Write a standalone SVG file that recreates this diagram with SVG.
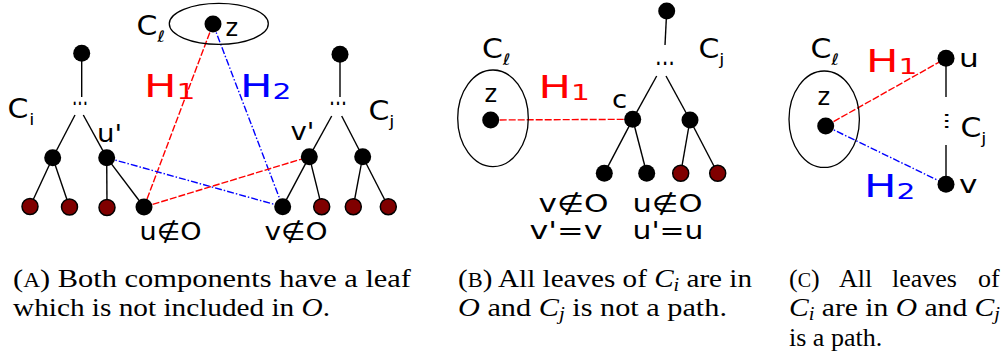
<svg xmlns="http://www.w3.org/2000/svg" width="1005" height="360" viewBox="0 0 1005 360">
<style>
.bg{fill:#fff}
.n{fill:#000}
.r{fill:#800000;stroke:#000;stroke-width:1.5}
.el{fill:none;stroke:#000;stroke-width:1.3}
.e{stroke:#000;stroke-width:1.4;fill:none}
.h1{stroke:#f00;stroke-width:1.4;stroke-dasharray:7 2;fill:none}
.h2{stroke:#00f;stroke-width:1.4;stroke-dasharray:7 2 1.5 2;fill:none}
.l{font-family:"DejaVu Sans",sans-serif;font-size:24px;fill:#000}
.c{font-size:26px}
.H{font-size:32px}
.sub{font-size:16px}
.sub2{font-size:22px}
.dots{font-size:26px}
.red{fill:#f00}
.blue{fill:#00f}
.cap{font-family:"Liberation Serif",serif;font-size:26px;fill:#000}
.it{font-style:italic}
</style>
<rect class="bg" x="0" y="0" width="1005" height="360"/>

<g id="connectors">
  <!-- panel A, Ci tree -->
  <line class="e" x1="81.7" y1="53" x2="81.7" y2="97"/>
  <line class="e" x1="75" y1="115" x2="52.7" y2="157.7"/>
  <line class="e" x1="83.3" y1="115" x2="106.7" y2="157.7"/>
  <line class="e" x1="52.7" y1="157.7" x2="30" y2="206.5"/>
  <line class="e" x1="52.7" y1="157.7" x2="69.5" y2="207"/>
  <line class="e" x1="106.7" y1="157.7" x2="107" y2="207.5"/>
  <line class="e" x1="106.7" y1="157.7" x2="144" y2="207"/>
  <!-- panel A, Cj tree -->
  <line class="e" x1="340" y1="54" x2="340" y2="97"/>
  <line class="e" x1="331.7" y1="116" x2="309.3" y2="156.7"/>
  <line class="e" x1="341.7" y1="116" x2="362.7" y2="156.7"/>
  <line class="e" x1="309.3" y1="156.7" x2="282.7" y2="206.7"/>
  <line class="e" x1="309.3" y1="156.7" x2="321.7" y2="206.7"/>
  <line class="e" x1="362.7" y1="156.7" x2="353.3" y2="206.7"/>
  <line class="e" x1="362.7" y1="156.7" x2="388.3" y2="206.7"/>
  <!-- panel A, H edges -->
  <line class="h1" x1="213" y1="24" x2="144" y2="207"/>
  <line class="h2" x1="213" y1="24" x2="282.7" y2="206.7"/>
  <line class="h2" x1="106.7" y1="157.7" x2="282.7" y2="206.7"/>
  <line class="h1" x1="144" y1="207" x2="309.3" y2="156.7"/>
  <!-- panel B -->
  <line class="e" x1="666.7" y1="11" x2="665" y2="45"/>
  <line class="e" x1="656.7" y1="76" x2="632.7" y2="119.3"/>
  <line class="e" x1="666" y1="76" x2="690" y2="120"/>
  <line class="e" x1="632.7" y1="119.3" x2="604.3" y2="173.3"/>
  <line class="e" x1="632.7" y1="119.3" x2="646.7" y2="173.3"/>
  <line class="e" x1="690" y1="120" x2="680.7" y2="173.3"/>
  <line class="e" x1="690" y1="120" x2="717.7" y2="173.3"/>
  <line class="h1" x1="490.7" y1="120" x2="632.7" y2="119.3"/>
  <!-- panel C -->
  <line class="e" x1="946" y1="58.3" x2="946" y2="97"/>
  <line class="e" x1="946" y1="145" x2="946" y2="184.3"/>
  <line class="h1" x1="825.7" y1="126" x2="946" y2="58.3"/>
  <line class="h2" x1="825.7" y1="126" x2="946" y2="184.3"/>
</g>

<!-- ===== Panel A ===== -->
<g id="a-cl">
  <ellipse class="el" cx="218.8" cy="23.8" rx="49.5" ry="20.5"/>
  <text class="l c" transform="translate(136.5,35) scale(1.15,1)">C<tspan class="sub" x="18" dy="7" font-size="17">ℓ</tspan></text>
</g>
<g id="a-z">
  <circle class="n" cx="213" cy="24" r="8.5"/>
  <text class="l" x="225.5" y="36" font-size="25">z</text>
</g>
<text id="a-h1" class="l H red" transform="translate(144,97) scale(1.35,1)">H<tspan class="sub2" x="24" dy="2">1</tspan></text>
<text id="a-h2" class="l H blue" transform="translate(240,97) scale(1.35,1)">H<tspan class="sub2" x="24" dy="2">2</tspan></text>

<g id="a-ci">
  <text class="l c" transform="translate(7.5,118.3) scale(1.15,1)">C<tspan class="sub" x="19" dy="7">i</tspan></text>
  <g id="a-ci-root"><circle class="n" cx="81.7" cy="53.3" r="8.5"/></g>
  <text class="l dots" x="80" y="105" text-anchor="middle" textLength="16" lengthAdjust="spacingAndGlyphs">...</text>
  <g id="a-ci-left"><circle class="n" cx="52.7" cy="157.7" r="8.5"/></g>
  <g id="a-uprime"><circle class="n" cx="106.7" cy="157.7" r="8.5"/>
    <text class="l" transform="translate(97,141.7) scale(1.15,1)" font-size="25">u'</text></g>
  <g id="a-leaf1"><circle class="r" cx="30" cy="206.5" r="8"/></g>
  <g id="a-leaf2"><circle class="r" cx="69.5" cy="207" r="8"/></g>
  <g id="a-leaf3"><circle class="r" cx="107" cy="207.5" r="8"/></g>
  <g id="a-u"><circle class="n" cx="144" cy="207" r="8.5"/>
    <text class="l" x="139.5" y="240" font-size="27" textLength="62" lengthAdjust="spacingAndGlyphs">u∉O</text></g>
</g>

<g id="a-cj">
  <text class="l c" transform="translate(368.5,120) scale(1.15,1)">C<tspan class="sub" x="18" dy="7">j</tspan></text>
  <g id="a-cj-root"><circle class="n" cx="340" cy="54.3" r="8.5"/></g>
  <text class="l dots" x="338" y="105" text-anchor="middle" textLength="18" lengthAdjust="spacingAndGlyphs">...</text>
  <g id="a-vprime"><circle class="n" cx="309.3" cy="156.7" r="8.5"/>
    <text class="l" transform="translate(290.5,140) scale(1.15,1)" font-size="25">v'</text></g>
  <g id="a-cj-right"><circle class="n" cx="362.7" cy="156.7" r="8.5"/></g>
  <g id="a-v"><circle class="n" cx="282.7" cy="206.7" r="8.5"/>
    <text class="l" x="264.5" y="240" font-size="27" textLength="63" lengthAdjust="spacingAndGlyphs">v∉O</text></g>
  <g id="a-leaf4"><circle class="r" cx="321.7" cy="206.7" r="8"/></g>
  <g id="a-leaf5"><circle class="r" cx="353.3" cy="206.7" r="8"/></g>
  <g id="a-leaf6"><circle class="r" cx="388.3" cy="206.7" r="8"/></g>
</g>

<!-- ===== Panel B ===== -->
<g id="b-cl">
  <ellipse class="el" cx="493" cy="118.3" rx="35.3" ry="48.3"/>
  <text class="l c" transform="translate(482,58.3) scale(1.15,1)">C<tspan class="sub" x="18" dy="7" font-size="17">ℓ</tspan></text>
</g>
<g id="b-z">
  <circle class="n" cx="490.7" cy="120" r="8.5"/>
  <text class="l" x="484.5" y="101.7" font-size="27">z</text>
</g>
<text id="b-h1" class="l H red" transform="translate(538.5,98) scale(1.35,1)">H<tspan class="sub2" x="24" dy="2">1</tspan></text>
<g id="b-cj">
  <text class="l c" transform="translate(698.5,58) scale(1.15,1)">C<tspan class="sub" x="18" dy="7">j</tspan></text>
  <g id="b-root"><circle class="n" cx="666.7" cy="11" r="8.5"/></g>
  <text class="l dots" x="665" y="65" text-anchor="middle" textLength="20" lengthAdjust="spacingAndGlyphs">...</text>
  <g id="b-c"><circle class="n" cx="632.7" cy="119.3" r="8.5"/>
    <text class="l" transform="translate(612,108) scale(1.15,1)" font-size="27">c</text></g>
  <g id="b-right"><circle class="n" cx="690" cy="120" r="8.5"/></g>
  <g id="b-v"><circle class="n" cx="604.3" cy="173.3" r="8.5"/>
    <text class="l" x="538.5" y="212" font-size="26" textLength="70" lengthAdjust="spacingAndGlyphs">v∉O</text>
    <text class="l" x="529.5" y="238.5" font-size="26" textLength="73" lengthAdjust="spacingAndGlyphs">v'=v</text></g>
  <g id="b-u"><circle class="n" cx="646.7" cy="173.3" r="8.5"/>
    <text class="l" x="632.5" y="212" font-size="26" textLength="70" lengthAdjust="spacingAndGlyphs">u∉O</text>
    <text class="l" x="632.5" y="238.5" font-size="26" textLength="71" lengthAdjust="spacingAndGlyphs">u'=u</text></g>
  <g id="b-leaf1"><circle class="r" cx="680.7" cy="173.3" r="8"/></g>
  <g id="b-leaf2"><circle class="r" cx="717.7" cy="173.3" r="8"/></g>
</g>

<!-- ===== Panel C ===== -->
<g id="c-cl">
  <ellipse class="el" cx="824.2" cy="119.2" rx="35.2" ry="48.2"/>
  <text class="l c" transform="translate(810.5,58.3) scale(1.15,1)">C<tspan class="sub" x="18" dy="7" font-size="17">ℓ</tspan></text>
</g>
<g id="c-z">
  <circle class="n" cx="825.7" cy="126" r="8.5"/>
  <text class="l" x="817.5" y="105" font-size="27">z</text>
</g>
<text id="c-h1" class="l H red" transform="translate(866,71.7) scale(1.35,1)">H<tspan class="sub2" x="24" dy="2">1</tspan></text>
<text id="c-h2" class="l H blue" transform="translate(864,196.7) scale(1.35,1)">H<tspan class="sub2" x="24" dy="2">2</tspan></text>
<g id="c-cj">
  <g id="c-u"><circle class="n" cx="946" cy="58.3" r="8.5"/>
    <text class="l" transform="translate(959,66.7) scale(1.3,1)" font-size="25">u</text></g>
  <text class="l dots" transform="translate(944.5,121) rotate(90)" text-anchor="middle" textLength="18" lengthAdjust="spacingAndGlyphs">...</text>
  <text class="l c" transform="translate(960.5,136.7) scale(1.15,1)">C<tspan class="sub" x="18" dy="7">j</tspan></text>
  <g id="c-v"><circle class="n" cx="946" cy="184.3" r="8.5"/>
    <text class="l" transform="translate(959,193) scale(1.3,1)" font-size="25">v</text></g>
</g>

<!-- ===== Captions ===== -->
<g id="captions">
  <text class="cap" x="13" y="287" textLength="398" lengthAdjust="spacingAndGlyphs">(<tspan font-size="20">A</tspan>) Both components have a leaf</text>
  <text class="cap" x="13" y="316" textLength="317" lengthAdjust="spacingAndGlyphs">which is not included in <tspan class="it">O</tspan>.</text>
  <text class="cap" x="458" y="287" textLength="294" lengthAdjust="spacingAndGlyphs">(<tspan font-size="20">B</tspan>) All leaves of <tspan class="it">C</tspan><tspan class="it" font-size="18" dy="4">i</tspan><tspan dy="-4"> are in</tspan></text>
  <text class="cap" x="458" y="316" textLength="269" lengthAdjust="spacingAndGlyphs"><tspan class="it">O</tspan> and <tspan class="it">C</tspan><tspan class="it" font-size="18" dy="4">j</tspan><tspan dy="-4"> is not a path.</tspan></text>
  <text class="cap" x="789" y="287">(<tspan font-size="20">C</tspan>)<tspan x="839">All</tspan><tspan x="892">leaves</tspan><tspan x="978">of</tspan></text>
  <text class="cap" x="789" y="316" textLength="211" lengthAdjust="spacingAndGlyphs"><tspan class="it">C</tspan><tspan class="it" font-size="18" dy="4">i</tspan><tspan dy="-4"> are in </tspan><tspan class="it">O</tspan> and <tspan class="it">C</tspan><tspan class="it" font-size="18" dy="4">j</tspan></text>
  <text class="cap" x="789" y="346">is a path.</text>
</g>
</svg>
